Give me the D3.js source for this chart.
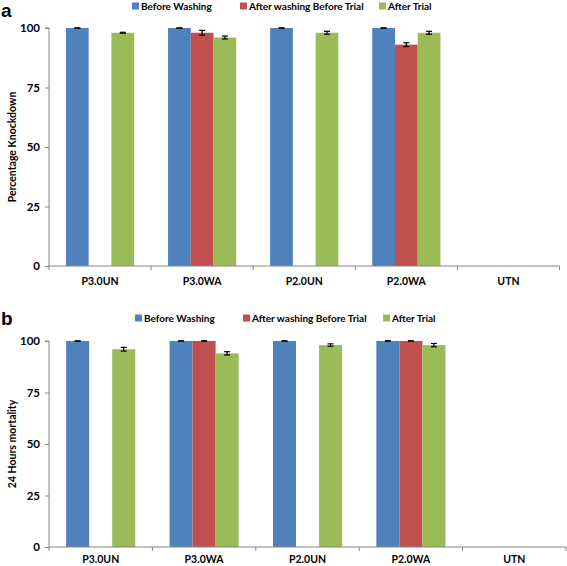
<!DOCTYPE html>
<html><head><meta charset="utf-8">
<script src="https://cdn.jsdelivr.net/npm/d3@7"></script>
<style>body{margin:0;background:#fff}svg{display:block}text{font-family:Lato,"Open Sans",sans-serif;font-weight:bold}</style>
</head><body>
<svg id="c" width="567" height="566"></svg>
<script>
const categories = ["P3.0UN","P3.0WA","P2.0UN","P2.0WA","UTN"];
const seriesNames = ["Before Washing","After washing Before Trial","After Trial"];
const yTicks = [0,25,50,75,100];

// Panel a: Percentage Knockdown
const knockBefore     = [100, 100, 100, 100, null];
const knockAfterWash  = [null, 98, null, 93, null];
const knockAfterTrial = [98, 96, 98, 98, null];
const knockBeforeErr     = [0, 0, 0, 0, null];
const knockAfterWashErr  = [null, 1.0, null, 0.8, null];
const knockAfterTrialErr = [0.2, 0.6, 0.6, 0.6, null];

// Panel b: 24 Hours mortality
const mortBefore     = [100, 100, 100, 100, null];
const mortAfterWash  = [null, 100, null, 100, null];
const mortAfterTrial = [96, 94, 98, 98, null];
const mortBeforeErr     = [0, 0, 0, 0, null];
const mortAfterWashErr  = [null, 0, null, 0, null];
const mortAfterTrialErr = [0.9, 0.8, 0.6, 0.8, null];

const colors = ["#4F81BD","#C0504D","#9BBB59"];
const axisColor = "#868686";

const svg = d3.select("#c");

function panel(cfg){
  const g = svg.append("g");
  const x = d3.scaleBand().domain(categories).range([cfg.x0, cfg.x1]).padding(0);
  const xs = d3.scaleBand().domain(seriesNames).range([0, x.bandwidth()]).paddingInner(0).paddingOuter(0.745);
  const y = d3.scaleLinear().domain([0,100]).range([cfg.y0, cfg.y1]);
  const vals = [cfg.before, cfg.afterWash, cfg.afterTrial];
  const errs = [cfg.beforeErr, cfg.afterWashErr, cfg.afterTrialErr];

  seriesNames.forEach((s,si)=>{
    const data = categories.map((c,i)=>({c, v: vals[si][i], e: errs[si][i]})).filter(d=>d.v!=null);
    g.selectAll(null).data(data).enter().append("rect")
      .attr("x", d=>x(d.c)+xs(s))
      .attr("width", xs.bandwidth())
      .attr("y", d=>y(d.v))
      .attr("height", d=>y(0)-y(d.v))
      .attr("fill", colors[si]);
  });
  seriesNames.forEach((s,si)=>{
    const data = categories.map((c,i)=>({c, v: vals[si][i], e: errs[si][i]})).filter(d=>d.v!=null);
    const eg = g.selectAll(null).data(data).enter().append("g")
      .attr("transform", d=>`translate(${x(d.c)+xs(s)+xs.bandwidth()/2},0)`)
      .attr("stroke","#000").attr("stroke-width",1.2);
    eg.append("line").attr("x1",0).attr("x2",0).attr("y1",d=>y(d.v+d.e)).attr("y2",d=>y(d.v-d.e));
    eg.append("line").attr("x1",-3).attr("x2",3).attr("y1",d=>y(d.v+d.e)).attr("y2",d=>y(d.v+d.e));
    eg.append("line").attr("x1",-3).attr("x2",3).attr("y1",d=>y(d.v-d.e)).attr("y2",d=>y(d.v-d.e));
  });

  // y axis
  const ya = g.append("g").attr("transform",`translate(${cfg.x0},0)`)
    .call(d3.axisLeft(y).tickValues(yTicks).tickSize(4).tickPadding(5));
  ya.select(".domain").attr("stroke",axisColor).attr("d",`M-4,${y(100)}H0V${y(0)}`);
  ya.selectAll(".tick line").attr("stroke",axisColor);
  ya.selectAll(".tick text").attr("fill","#000").style("font-size","11.5px").style("font-family","Lato,sans-serif").style("font-weight","bold");

  // x axis
  const xa = g.append("g").attr("transform",`translate(0,${y(0)})`);
  xa.append("line").attr("x1",cfg.x0).attr("x2",cfg.x1).attr("y1",0).attr("y2",0).attr("stroke",axisColor);
  const bounds = categories.map(c=>x(c)).concat([cfg.x1]);
  xa.selectAll(null).data(bounds).enter().append("line")
    .attr("x1",d=>d).attr("x2",d=>d).attr("y1",0).attr("y2",4).attr("stroke",axisColor);
  xa.selectAll(null).data(categories).enter().append("text")
    .attr("x",d=>x(d)+x.bandwidth()/2).attr("y",cfg.labelDy)
    .attr("text-anchor","middle").attr("dominant-baseline","central")
    .style("font-size","10.5px").text(d=>d);

  // y title
  g.append("text").attr("transform",`translate(12,${(cfg.y0+cfg.y1)/2}) rotate(-90)`)
    .attr("text-anchor","middle").attr("dominant-baseline","central")
    .style("font-size","10.5px").text(cfg.ytitle);

  // panel letter
  g.append("text").attr("x",1).attr("y",cfg.letterY).style("font-family","'Liberation Sans',Arial,sans-serif")
    .style("font-size","19px").style("font-weight","bold").text(cfg.letter);

  // legend
  const lg = g.append("g");
  const lx = cfg.legendX;
  seriesNames.forEach((s,i)=>{
    lg.append("rect").attr("x",lx[i]).attr("y",cfg.legendY-3.5).attr("width",7).attr("height",7).attr("fill",colors[i]);
    lg.append("text").attr("x",lx[i]+9).attr("y",cfg.legendY).attr("dominant-baseline","central")
      .style("font-size","10px").text(s);
  });
}

panel({x0:49, x1:559.5, y0:266, y1:28, labelDy:15,
  before:knockBefore, afterWash:knockAfterWash, afterTrial:knockAfterTrial,
  beforeErr:knockBeforeErr, afterWashErr:knockAfterWashErr, afterTrialErr:knockAfterTrialErr,
  ytitle:"Percentage Knockdown", letter:"a", letterY:17, legendY:6, legendX:[132,240,379]});

panel({x0:49, x1:566, y0:547, y1:341, labelDy:12,
  before:mortBefore, afterWash:mortAfterWash, afterTrial:mortAfterTrial,
  beforeErr:mortBeforeErr, afterWashErr:mortAfterWashErr, afterTrialErr:mortAfterTrialErr,
  ytitle:"24 Hours mortality", letter:"b", letterY:325, legendY:318, legendX:[135,243,383]});
</script>
</body></html>
